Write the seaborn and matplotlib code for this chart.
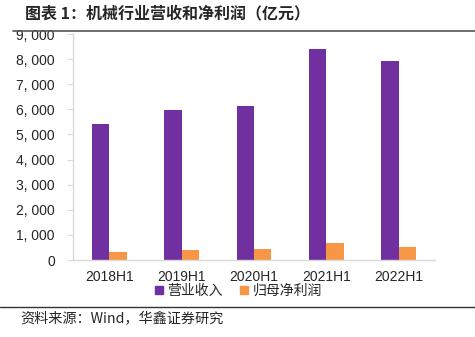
import matplotlib
matplotlib.use("Agg")
import matplotlib.pyplot as plt
import seaborn as sns
import pandas as pd
from matplotlib.ticker import FuncFormatter
from matplotlib.lines import Line2D

categories = ["2018H1", "2019H1", "2020H1", "2021H1", "2022H1"]
revenue = [5410, 5960, 6120, 8420, 7940]
net_profit = [300, 380, 430, 660, 530]
series_names = ["营业收入", "归母净利润"]
colors = ["#7030A0", "#F79646"]

df = pd.DataFrame({
    "period": categories * 2,
    "value": revenue + net_profit,
    "series": [series_names[0]] * len(categories) + [series_names[1]] * len(categories),
})

sns.set_style("white")
plt.rcParams["font.family"] = ["Noto Sans CJK SC", "DejaVu Sans"]

fig = plt.figure(figsize=(4.75, 3.37), dpi=100)
ax = fig.add_axes([73/475, 1-260/337, (435-73)/475, (260-34)/337])

sns.barplot(data=df, x="period", y="value", hue="series", palette=colors,
            width=0.48, ax=ax, legend=False, saturation=1, linewidth=0)

ax.set_ylim(0, 9000)
ax.set_xlim(-0.5, 4.5)
ax.set_yticks(range(0, 9001, 1000))
ax.yaxis.set_major_formatter(FuncFormatter(lambda v, p: f"{int(v):,}".replace(",", ", ")))
ax.set_xlabel("")
ax.set_ylabel("")
for s in ["top", "right"]:
    ax.spines[s].set_visible(False)
for s in ["left", "bottom"]:
    ax.spines[s].set_color("#D9D9D9")
    ax.spines[s].set_linewidth(1)
ax.tick_params(axis="y", length=4, color="#D9D9D9", labelsize=10, pad=9,
               left=True, direction="out")
ax.tick_params(axis="x", length=0, labelsize=10, pad=7)
for lab in ax.get_yticklabels() + ax.get_xticklabels():
    lab.set_fontfamily(["Liberation Sans", "DejaVu Sans"])

handles = [Line2D([0], [0], marker="s", linestyle="", markersize=6,
                  markerfacecolor=c, markeredgecolor=c) for c in colors]
fig.legend(handles, series_names, loc="center", bbox_to_anchor=(237/475, 1-291/337),
           ncol=2, frameon=False, fontsize=10, handletextpad=0.1, columnspacing=1.0,
           handlelength=1.0)

fig.text(25/475, 1-13/337, "图表 1：机械行业营收和净利润（亿元）", fontsize=11.5,
         fontweight="bold", va="center", ha="left")
fig.add_artist(Line2D([13/475, 1.0], [1-31/337, 1-31/337], color="#555555", lw=1.2,
                      transform=fig.transFigure))
fig.add_artist(Line2D([0.0, 1.0], [1-307/337, 1-307/337], color="#333333", lw=1.0,
                      transform=fig.transFigure))
fig.text(20/475, 1-319/337, "资料来源：Wind，华鑫证券研究", fontsize=10.2,
         va="center", ha="left")

fig.savefig("out.png", dpi=100)
